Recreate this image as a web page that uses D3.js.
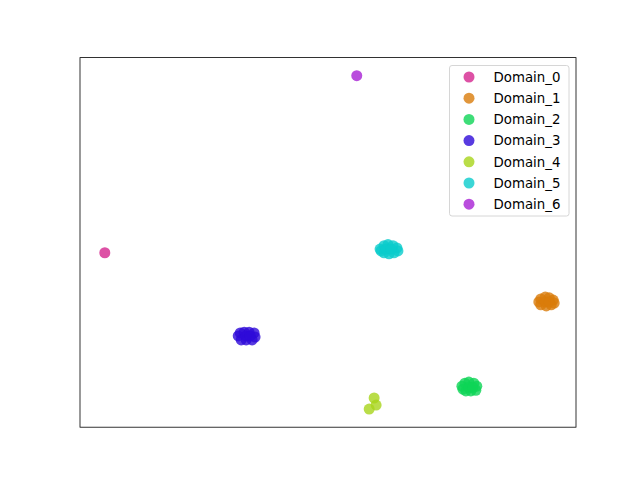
<!DOCTYPE html>
<html><head><meta charset="utf-8">
<script src="https://cdn.jsdelivr.net/npm/d3@7"></script>
<style>body{margin:0;background:#fff}</style>
</head><body>
<svg id="chart" width="640" height="480"></svg>
<script>
const domains = ["Domain_0","Domain_1","Domain_2","Domain_3","Domain_4","Domain_5","Domain_6"];
const colors = ["#d4268f","#d97c0a","#0ed456","#2e0ad8","#a8d41a","#0acccc","#a820d4"];
const d0x = [5.0], d0y = [47.2];
const d1x = [92.5,92.9,93.8,94.6,95.4,95.6,95.0,94.0,92.9,93.8,94.6];
const d1y = [33.9,34.7,35.2,35.0,34.4,33.6,33.1,32.8,33.1,33.9,33.9];
const d2x = [77.0,77.6,78.4,79.4,80.0,79.8,78.8,77.8,77.2,78.4,79.2];
const d2y = [11.1,11.9,12.2,11.9,11.1,10.0,9.8,9.8,10.3,10.8,10.8];
const d3x = [31.9,32.3,33.1,34.1,35.1,35.3,34.7,33.5,32.5,33.5,34.3];
const d3y = [24.7,25.5,25.7,25.7,25.5,24.4,23.6,23.6,23.6,24.7,24.7];
const d4x = [59.3,59.7,58.3];
const d4y = [7.9,6.0,4.9];
const d5x = [60.5,61.3,62.1,63.1,63.9,64.1,63.3,62.3,61.3,60.7,61.7,62.7];
const d5y = [48.2,49.1,49.4,49.1,48.5,47.7,47.2,46.9,47.2,47.7,48.2,48.2];
const d6x = [55.8], d6y = [95.1];
const xs = [d0x,d1x,d2x,d3x,d4x,d5x,d6x];
const ys = [d0y,d1y,d2y,d3y,d4y,d5y,d6y];

const svg = d3.select("#chart");
const L=80, R=576, T=57.6, B=427.2;
const x = d3.scaleLinear().domain([0,100]).range([L,R]);
const y = d3.scaleLinear().domain([0,100]).range([B,T]);
const rad = 5.5;

domains.forEach((name,i)=>{
  const pts = xs[i].map((v,j)=>({x:v,y:ys[i][j]}));
  svg.append("g").selectAll("circle").data(pts).join("circle")
    .attr("cx",d=>x(d.x)).attr("cy",d=>y(d.y)).attr("r",rad)
    .attr("fill",colors[i]).attr("fill-opacity",0.8);
});

svg.append("rect").attr("x",L).attr("y",T).attr("width",R-L).attr("height",B-T)
  .attr("fill","none").attr("stroke","#000").attr("stroke-width",0.8);

const lg = svg.append("g");
lg.append("rect").attr("x",449.5).attr("y",65.5).attr("width",119.5).attr("height",150.5)
  .attr("rx",2.5).attr("fill","#fff").attr("fill-opacity",0.8).attr("stroke","#cccccc").attr("stroke-width",0.8);
domains.forEach((name,i)=>{
  const cy = 77 + i*21.2;
  lg.append("circle").attr("cx",469).attr("cy",cy).attr("r",rad).attr("fill",colors[i]).attr("fill-opacity",0.8);
  lg.append("text").attr("x",493.5).attr("y",cy).attr("dy","0.36em")
    .attr("font-family","DejaVu Sans").attr("font-size","13.33px").attr("fill","#000").text(name);
});
</script>
</body></html>
